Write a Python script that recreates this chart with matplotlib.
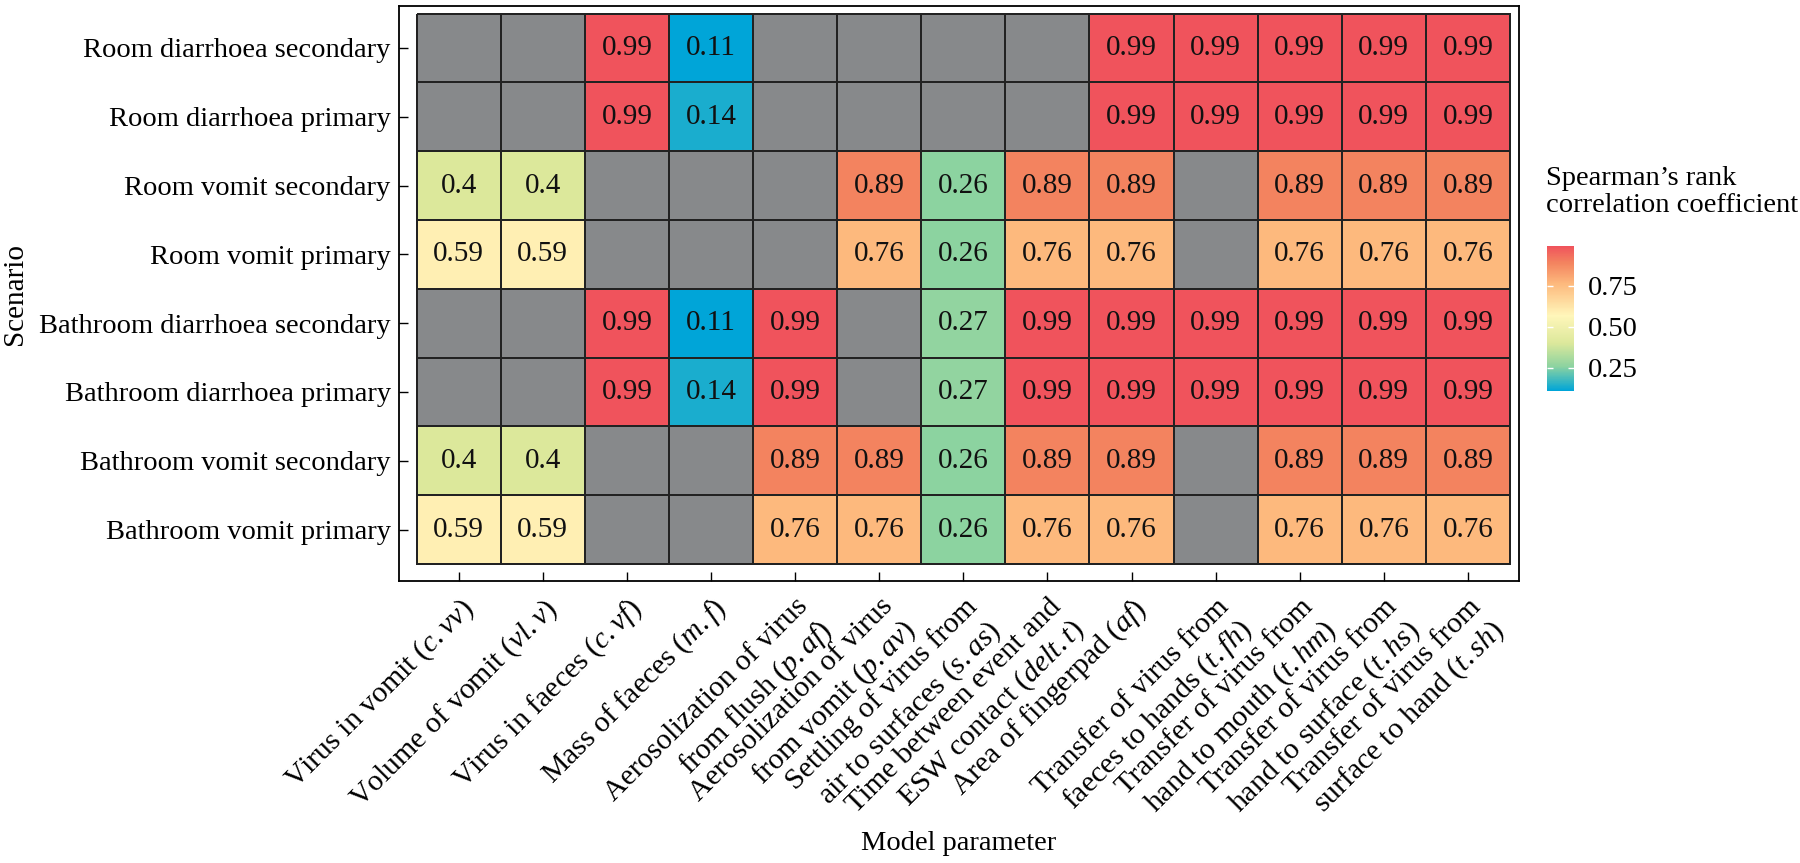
import numpy as np
import matplotlib
matplotlib.use("Agg")
import matplotlib.pyplot as plt
from matplotlib.colors import LinearSegmentedColormap, Normalize

# ============================================
# Spearman correlation heatmap: scenario x model parameter
# ============================================

plt.rcParams["font.family"] = ["Liberation Serif", "DejaVu Serif"]
plt.rcParams["mathtext.fontset"] = "custom"
plt.rcParams["mathtext.rm"] = "Liberation Serif"
plt.rcParams["mathtext.it"] = "Liberation Serif:italic"
plt.rcParams["mathtext.bf"] = "Liberation Serif:bold"

scenarios = [
    "Room diarrhoea secondary",
    "Room diarrhoea primary",
    "Room vomit secondary",
    "Room vomit primary",
    "Bathroom diarrhoea secondary",
    "Bathroom diarrhoea primary",
    "Bathroom vomit secondary",
    "Bathroom vomit primary",
]

parameters = [
    r"Virus in vomit ($\mathit{c.vv}$)",
    r"Volume of vomit ($\mathit{vl.v}$)",
    r"Virus in faeces ($\mathit{c.vf}$)",
    r"Mass of faeces ($\mathit{m.f}$)",
    "Aerosolization of virus\n" + r"from flush ($\mathit{p.af}$)",
    "Aerosolization of virus\n" + r"from vomit ($\mathit{p.av}$)",
    "Settling of virus from\n" + r"air to surfaces ($\mathit{s.as}$)",
    "Time between event and\n" + r"ESW contact ($\mathit{delt.t}$)",
    r"Area of fingerpad ($\mathit{af}$)",
    "Transfer of virus from\n" + r"faeces to hands ($\mathit{t.fh}$)",
    "Transfer of virus from\n" + r"hand to mouth ($\mathit{t.hm}$)",
    "Transfer of virus from\n" + r"hand to surface ($\mathit{t.hs}$)",
    "Transfer of virus from\n" + r"surface to hand ($\mathit{t.sh}$)",
]

na = np.nan
room_diarrhoea_secondary = [na, na, 0.99, 0.11, na, na, na, na, 0.99, 0.99, 0.99, 0.99, 0.99]
room_diarrhoea_primary = [na, na, 0.99, 0.14, na, na, na, na, 0.99, 0.99, 0.99, 0.99, 0.99]
room_vomit_secondary = [0.4, 0.4, na, na, na, 0.89, 0.26, 0.89, 0.89, na, 0.89, 0.89, 0.89]
room_vomit_primary = [0.59, 0.59, na, na, na, 0.76, 0.26, 0.76, 0.76, na, 0.76, 0.76, 0.76]
bath_diarrhoea_secondary = [na, na, 0.99, 0.11, 0.99, na, 0.27, 0.99, 0.99, 0.99, 0.99, 0.99, 0.99]
bath_diarrhoea_primary = [na, na, 0.99, 0.14, 0.99, na, 0.27, 0.99, 0.99, 0.99, 0.99, 0.99, 0.99]
bath_vomit_secondary = [0.4, 0.4, na, na, 0.89, 0.89, 0.26, 0.89, 0.89, na, 0.89, 0.89, 0.89]
bath_vomit_primary = [0.59, 0.59, na, na, 0.76, 0.76, 0.26, 0.76, 0.76, na, 0.76, 0.76, 0.76]

values = np.array([
    room_diarrhoea_secondary,
    room_diarrhoea_primary,
    room_vomit_secondary,
    room_vomit_primary,
    bath_diarrhoea_secondary,
    bath_diarrhoea_primary,
    bath_vomit_secondary,
    bath_vomit_primary,
])

# colour gradient (blue -> green -> pale yellow -> orange -> red)
cmap = LinearSegmentedColormap.from_list("spearman", [
    (0.00, "#00A5D8"),
    (0.17, "#8DD3A0"),
    (0.33, "#DCE89B"),
    (0.52, "#FFF6BA"),
    (0.74, "#FDB97D"),
    (0.886, "#F3835F"),
    (1.00, "#F0535C"),
])
cmap.set_bad("#87898B")
norm = Normalize(vmin=np.nanmin(values), vmax=np.nanmax(values))

fig = plt.figure(figsize=(18, 8.63), dpi=100)
ax = fig.add_axes([399 / 1800, 1 - 581 / 863, 1120 / 1800, 575 / 863])

nrow, ncol = values.shape
masked = np.ma.masked_invalid(values)
mesh = ax.pcolormesh(np.arange(ncol + 1) - 0.5, np.arange(nrow + 1) - 0.5, masked,
                     cmap=cmap, norm=norm, edgecolors="#222222", linewidth=1.1)

for i in range(nrow):
    for j in range(ncol):
        v = values[i, j]
        if not np.isnan(v):
            ax.text(j, i, f"{v:g}", ha="center", va="center", fontsize=21, color="#111111")

ax.set_xlim(-0.71, ncol - 0.5 + 0.107)
ax.set_ylim(nrow - 0.5 + 0.247, -0.609)

ax.set_xticks(range(ncol))
ax.set_xticklabels(parameters, rotation=45, ha="right", va="top",
                   rotation_mode="anchor", multialignment="right")
ax.set_yticks(range(nrow))
ax.set_yticklabels(scenarios)
ax.tick_params(axis="both", direction="in", length=6.5, width=1.0, colors="black")
ax.tick_params(axis="x", pad=9, labelsize=21.5)
ax.tick_params(axis="y", pad=6, labelsize=20.5)
for s in ax.spines.values():
    s.set_linewidth(1.3)

ax.set_ylabel("Scenario", fontsize=21, labelpad=8)
fig.text(959 / 1800, 1 - 843 / 863, "Model parameter", ha="center", va="center", fontsize=20.5)

# colourbar
cax = fig.add_axes([1547 / 1800, 1 - 391 / 863, 27 / 1800, 145 / 863])
cb = fig.colorbar(mesh, cax=cax, ticks=[0.25, 0.5, 0.75])
cb.ax.set_yticklabels(["0.25", "0.50", "0.75"])
cb.outline.set_visible(False)
cb.ax.tick_params(direction="in", color="white", length=4, width=1.0,
                  left=True, right=True, labelsize=20.5, pad=10)
fig.text(1546 / 1800, 1 - 166 / 863, "Spearman\u2019s rank\ncorrelation coefficient",
         ha="left", va="top", fontsize=20.5, linespacing=1.1)

fig.savefig("out.png", dpi=100)
